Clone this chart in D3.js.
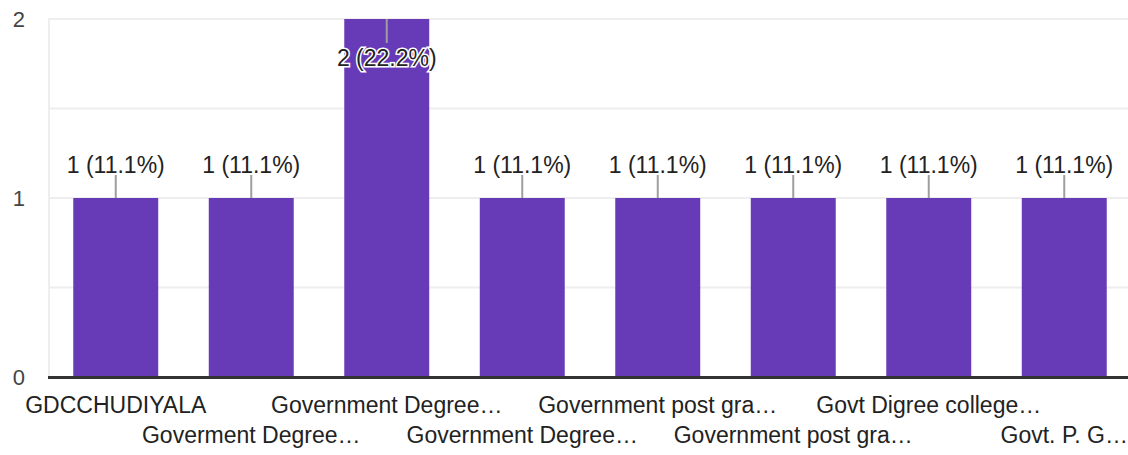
<!DOCTYPE html>
<html>
<head>
<meta charset="utf-8">
<script src="https://cdn.jsdelivr.net/npm/d3@7"></script>
<style>
  body { margin: 0; background: #fff; }
  text { font-family: Arial, "Liberation Sans", sans-serif; }
</style>
</head>
<body>
<script>
// chart data
const categories = ["GDCCHUDIYALA", "Goverment Degree…", "Government Degree…", "Government Degree…",
    "Government post gra…", "Government post gra…", "Govt Digree college…", "Govt. P. G…"];
const counts = [1, 1, 2, 1, 1, 1, 1, 1];
const yTicks = [0, 1, 2];
const gridTicks = [0.5, 1, 1.5, 2];

const canvWidth = 1128, canvHeight = 455;
const svg = d3.select("body").append("svg")
    .attr("width", canvWidth)
    .attr("height", canvHeight);

const plotLeft = 48, plotRight = 1132;
const total = d3.sum(counts);

const xScale = d3.scaleBand()
    .domain(d3.range(categories.length))
    .range([plotLeft, plotRight])
    .paddingInner(0.373)
    .paddingOuter(0.1865);
const yScale = d3.scaleLinear().domain([0, 2]).range([377, 19]);

// gridlines
svg.append("line")
    .attr("x1", plotLeft + 1).attr("x2", plotLeft + 1)
    .attr("y1", yScale(2) - 1).attr("y2", yScale(0))
    .attr("stroke", "#eeeeee").attr("stroke-width", 2);

svg.selectAll(".grid")
    .data(gridTicks)
    .enter()
    .append("line")
    .attr("class", "grid")
    .attr("x1", plotLeft).attr("x2", canvWidth)
    .attr("y1", d => yScale(d)).attr("y2", d => yScale(d))
    .attr("stroke", "#eeeeee").attr("stroke-width", 2);

// y tick labels
svg.selectAll(".ytick")
    .data(yTicks)
    .enter()
    .append("text")
    .attr("class", "ytick")
    .attr("x", 25)
    .attr("y", d => yScale(d))
    .attr("dy", "0.35em")
    .attr("text-anchor", "end")
    .attr("font-size", "22px")
    .attr("fill", "#444")
    .text(d => d);

// bars
svg.selectAll(".bar")
    .data(counts)
    .enter()
    .append("rect")
    .attr("class", "bar")
    .attr("x", (d, i) => xScale(i))
    .attr("y", d => yScale(d))
    .attr("width", xScale.bandwidth())
    .attr("height", d => yScale(0) - yScale(d))
    .attr("fill", "#673ab7");

// x axis line
svg.append("line")
    .attr("x1", plotLeft).attr("x2", canvWidth)
    .attr("y1", yScale(0) + 0.5).attr("y2", yScale(0) + 0.5)
    .attr("stroke", "#333").attr("stroke-width", 3);

// value labels with leader lines
const cx = i => xScale(i) + xScale.bandwidth() / 2;
const inside = d => yScale(d) - 50 < 0;

svg.selectAll(".leader")
    .data(counts)
    .enter()
    .append("line")
    .attr("class", "leader")
    .attr("x1", (d, i) => cx(i)).attr("x2", (d, i) => cx(i))
    .attr("y1", d => yScale(d))
    .attr("y2", d => inside(d) ? yScale(d) + 24 : yScale(d) - 23)
    .attr("stroke", "#9e9e9e").attr("stroke-width", 2);

svg.selectAll(".vlabel")
    .data(counts)
    .enter()
    .append("text")
    .attr("class", "vlabel")
    .attr("x", (d, i) => cx(i))
    .attr("y", d => inside(d) ? yScale(d) + 47 : yScale(d) - 25)
    .attr("text-anchor", "middle")
    .attr("font-size", "23px")
    .attr("fill", "#222")
    .attr("stroke", "#fff")
    .attr("stroke-width", 3)
    .attr("paint-order", "stroke")
    .text(d => d + " (" + (d / total * 100).toFixed(1) + "%)");

// category labels, alternating rows
svg.selectAll(".xlabel")
    .data(categories)
    .enter()
    .append("text")
    .attr("class", "xlabel")
    .attr("x", (d, i) => cx(i))
    .attr("y", (d, i) => i % 2 === 0 ? 413 : 443)
    .attr("text-anchor", "middle")
    .attr("font-size", "23px")
    .attr("fill", "#222")
    .text(d => d);
</script>
</body>
</html>
